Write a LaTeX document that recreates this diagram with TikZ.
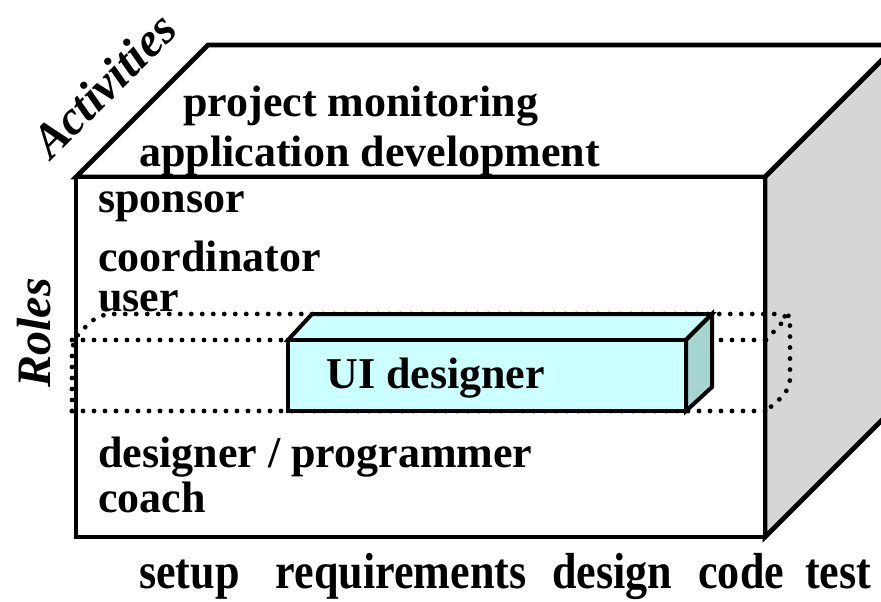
\documentclass[tikz,border=0pt]{standalone}
\usepackage{fontspec}
\setmainfont{Liberation Serif}
\begin{document}
\begin{tikzpicture}[x=0.75pt,y=-0.75pt,
  boxline/.style={draw=black,line width=3.6pt,line join=miter},
  cyanline/.style={draw=black,line width=3pt,line join=miter},
  dotline/.style={draw=black,line width=3.6pt,line cap=round,dash pattern=on 0pt off 8.25pt},
  lbl/.style={inner sep=0pt,font=\fontsize{33}{39}\selectfont\bfseries},
  axislbl/.style={inner sep=0pt,font=\fontsize{36}{42}\selectfont\bfseries\itshape},
  phaselbl/.style={inner sep=0pt,font=\fontsize{38}{44}\selectfont\bfseries}]
\definecolor{sidegray}{HTML}{D6D6D6}
\definecolor{cyanfront}{HTML}{CCFFFF}
\definecolor{cyanside}{HTML}{A6D6D2}
\useasboundingbox (0,0) rectangle (881,602);
\fill[white] (0,0) rectangle (881,602);
\begin{scope}
\clip (0,0) rectangle (881,602);
\draw[boxline,fill=white] (76,177) -- (208,45) -- (897,45) -- (765,177) -- cycle;
\draw[boxline,fill=sidegray] (765,177) -- (897,45) -- (897,405) -- (765,537) -- cycle;
\draw[boxline,fill=white] (76,177) rectangle (765,537);
\end{scope}
% activities
\node[lbl,anchor=base west] (pm) at (183,117) {project monitoring};
\node[lbl,anchor=base west] (ad) at (139,167) {application development};
% roles
\node[lbl,anchor=base west] (sp) at (98,213) {sponsor};
\node[lbl,anchor=base west] (co) at (98,272) {coordinator};
\node[lbl,anchor=base west] (us) at (98,311) {user};
\node[lbl,anchor=base west] (dp) at (98,467) {designer / programmer};
\node[lbl,anchor=base west] (ch) at (98,512) {coach};
% dotted role slab
\draw[dotline,rounded corners=9pt] (72,411) -- (72,340) -- (99,314) -- (790,314) -- (790,390) -- (766,411);
\draw[dotline] (72,340) -- (766,340);
\draw[dotline] (72,411) -- (766,411);
\draw[dotline] (766,340) -- (790,314);
% UI designer block
\draw[cyanline,fill=cyanfront] (288,340) -- (312,314) -- (712,314) -- (686,340) -- cycle;
\draw[cyanline,fill=cyanside] (686,340) -- (712,314) -- (712,387) -- (686,411) -- cycle;
\draw[cyanline,fill=cyanfront] (288,340) rectangle (686,411);
\node[lbl,anchor=base west] (ui) at (326,388) {UI designer};
% axis labels
\node[axislbl,anchor=base,rotate=90] (roles) at (50,333) {Roles};
\node[axislbl,anchor=base west,rotate=45] (acts) at (51,161) {Activities};
\node[phaselbl,anchor=base west] (phases) at (139,588) {\scalebox{0.87}[1]{setup\hspace{0.57em} requirements\hspace{0.34em} design\hspace{0.34em} code\hspace{0.23em} test}};
\end{tikzpicture}
\end{document}
